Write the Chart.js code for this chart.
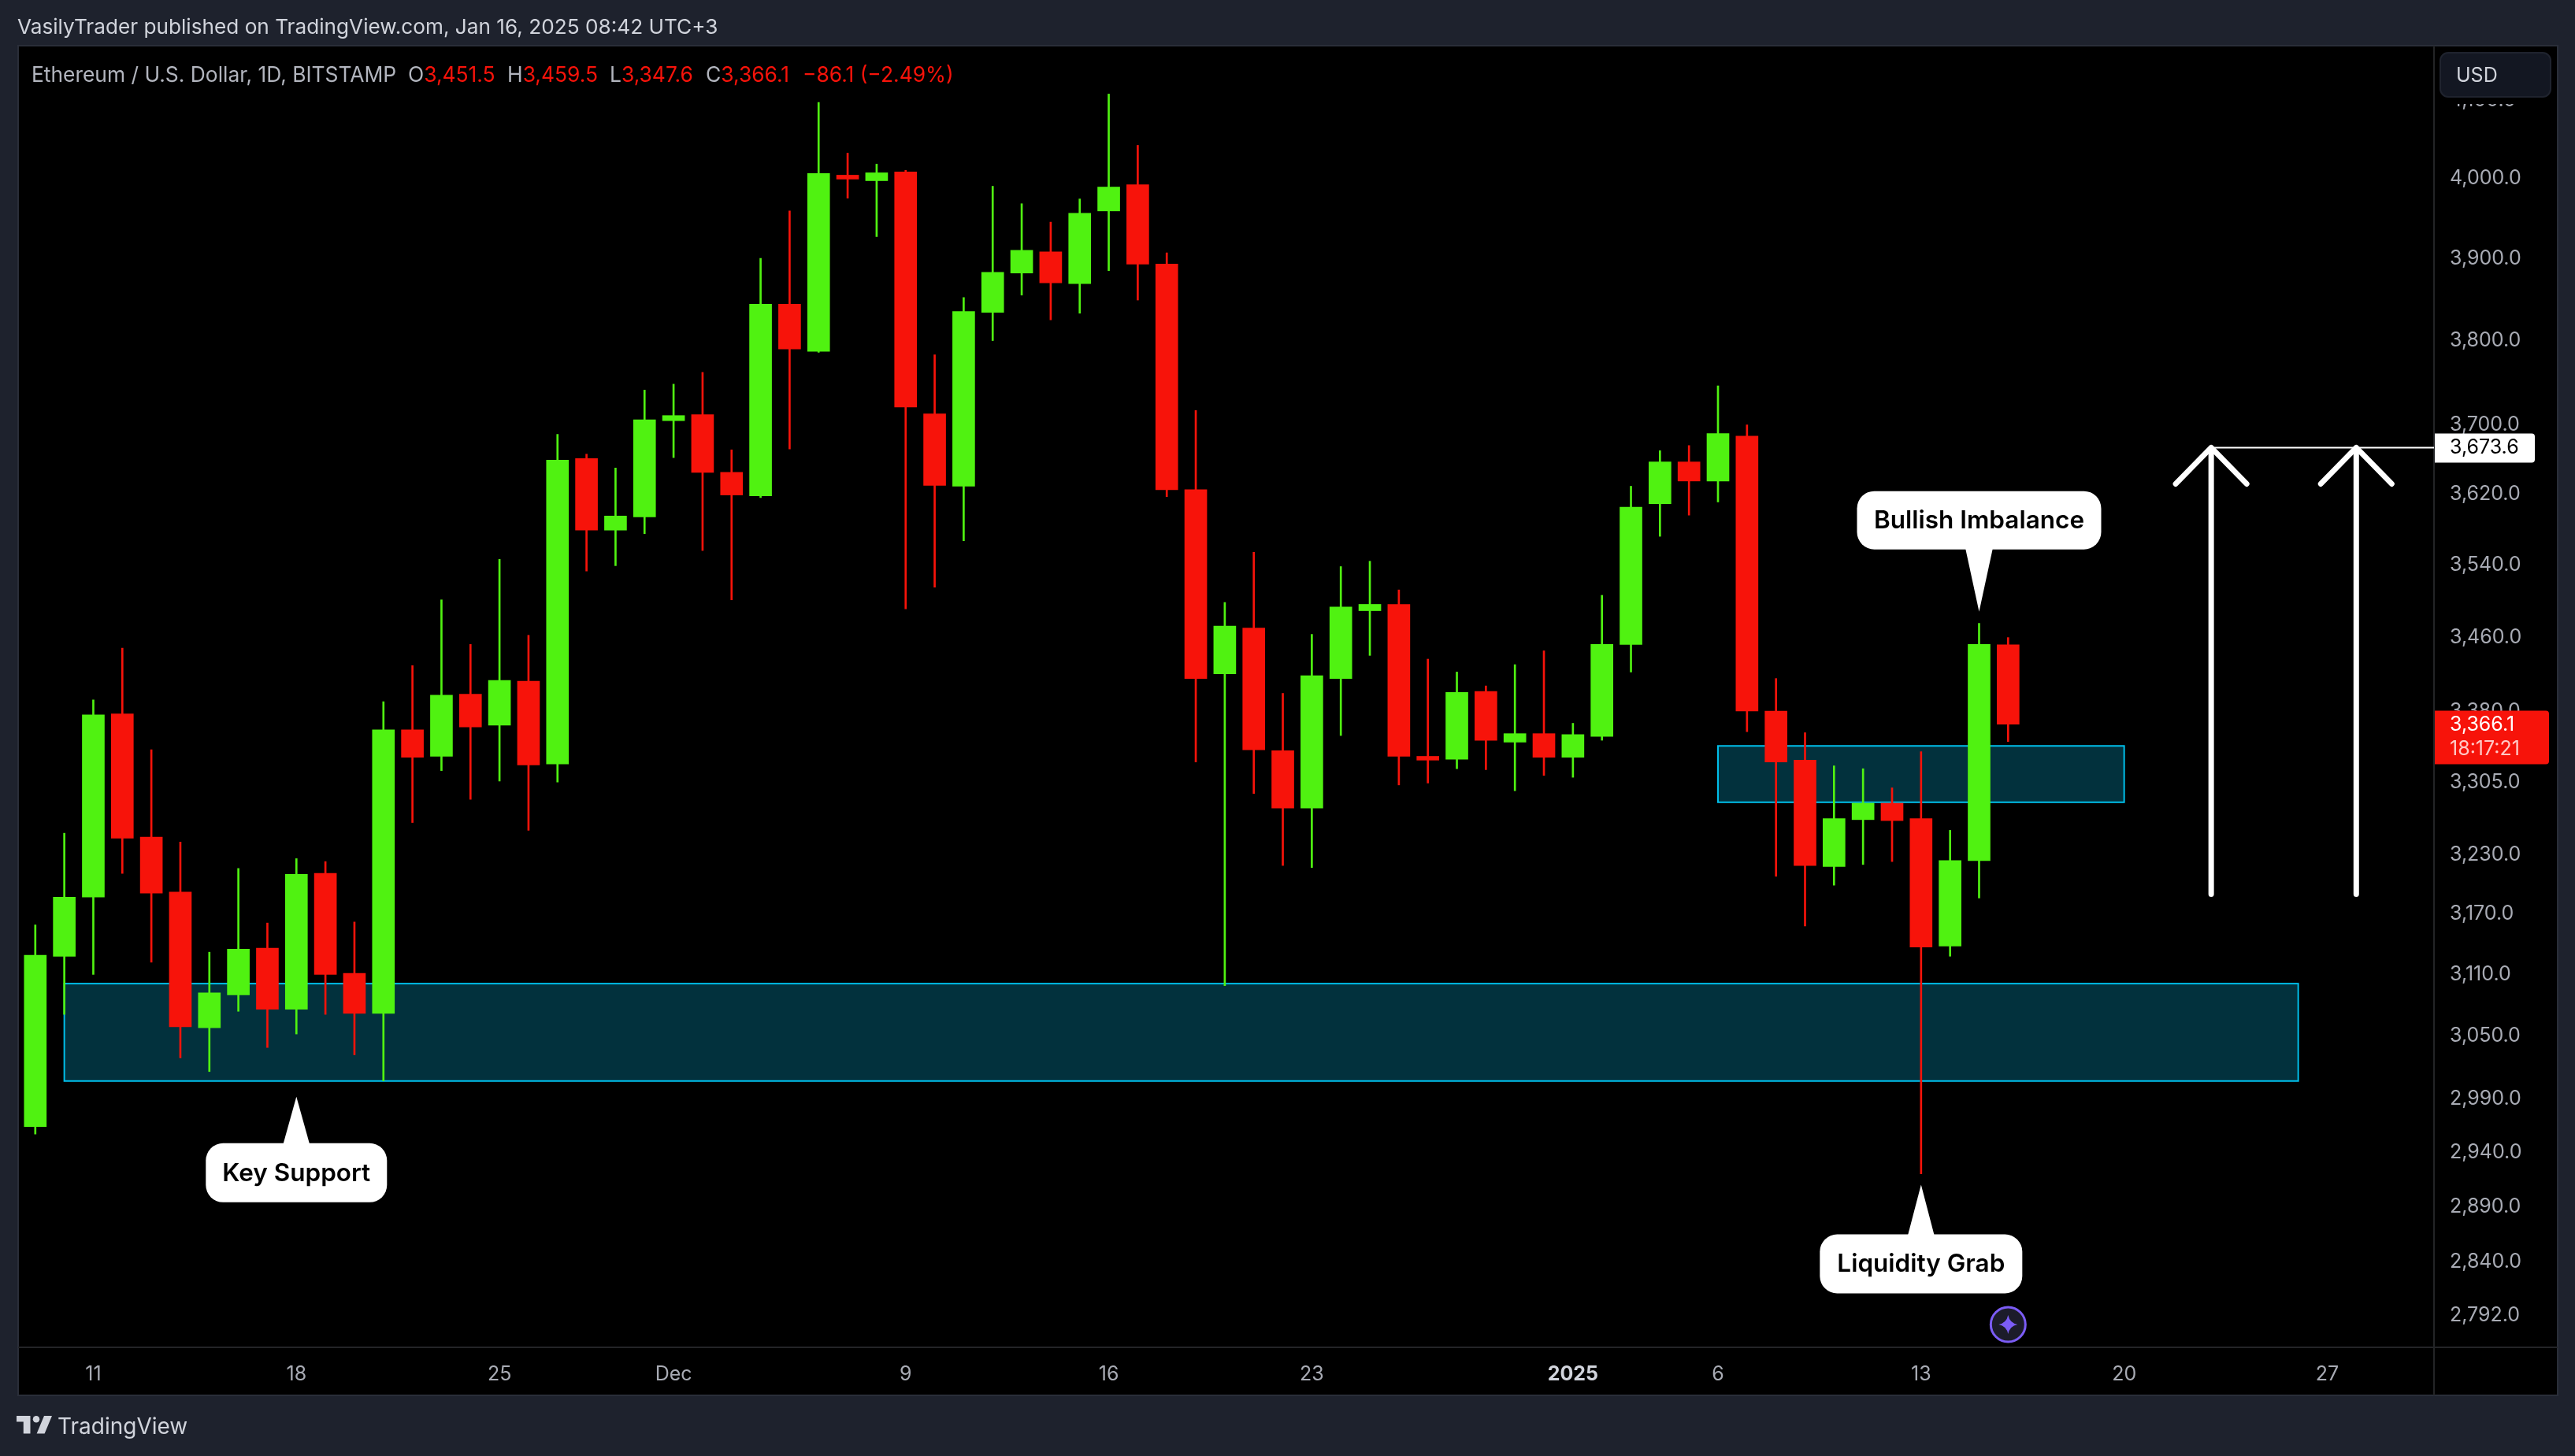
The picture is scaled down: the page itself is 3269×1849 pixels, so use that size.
<!DOCTYPE html>
<html>
<head>
<meta charset="utf-8">
<title>ETHUSD</title>
<script src="https://cdn.jsdelivr.net/npm/chart.js@4"></script>
<style>
    html, body { margin: 0; padding: 0; background: #1e222d; overflow: hidden; }
    body { width: 3269px; height: 1849px; position: relative; font-family: Inter, sans-serif; }
    canvas { position: absolute; left: 0; top: 0; }
    .txt { position: absolute; white-space: pre; line-height: 1; z-index: 2; }
    .head { left: 22px; top: 21px; font-size: 26.2px; color: #d1d4dc; }
    .leg { top: 81px; font-size: 26.4px; color: #b2b5be; }
    .leg b { font-weight: 400; color: #f7130a; }
    .foot { left: 73px; top: 1797px; font-size: 28px; color: #d1d4dc; }
    .logo { position: absolute; left: 21px; top: 1798px; z-index: 2; }
</style>
</head>
<body>
<canvas id="graph1" width="3269" height="1849"></canvas>
<div class="txt head">VasilyTrader published on TradingView.com, Jan 16, 2025 08:42 UTC+3</div>
<div class="txt leg" style="left:40px">Ethereum / U.S. Dollar, 1D, BITSTAMP</div>
<div class="txt leg" style="left:518px">O<b>3,451.5</b></div>
<div class="txt leg" style="left:644px">H<b>3,459.5</b></div>
<div class="txt leg" style="left:774px">L<b>3,347.6</b></div>
<div class="txt leg" style="left:896px">C<b>3,366.1</b></div>
<div class="txt leg" style="left:1019px"><b>−86.1 (−2.49%)</b></div>
<svg class="logo" width="45" height="23" viewBox="0 0 36 18.4">
    <path d="M14 0H0v6h7v12h7z M28.5 18h-8L28 0h8z" fill="#d1d4dc"/>
    <circle cx="20" cy="3.4" r="3.4" fill="#d1d4dc"/>
</svg>
<div class="txt foot">TradingView</div>

<script>
// 2024-11-09 .. 2025-01-16, one candle a day
const days = [
    "Nov 9","Nov 10","Nov 11","Nov 12","Nov 13","Nov 14","Nov 15","Nov 16","Nov 17","Nov 18","Nov 19","Nov 20",
    "Nov 21","Nov 22","Nov 23","Nov 24","Nov 25","Nov 26","Nov 27","Nov 28","Nov 29","Nov 30",
    "Dec 1","Dec 2","Dec 3","Dec 4","Dec 5","Dec 6","Dec 7","Dec 8","Dec 9","Dec 10","Dec 11","Dec 12","Dec 13",
    "Dec 14","Dec 15","Dec 16","Dec 17","Dec 18","Dec 19","Dec 20","Dec 21","Dec 22","Dec 23","Dec 24","Dec 25",
    "Dec 26","Dec 27","Dec 28","Dec 29","Dec 30","Dec 31",
    "Jan 1","Jan 2","Jan 3","Jan 4","Jan 5","Jan 6","Jan 7","Jan 8","Jan 9","Jan 10","Jan 11","Jan 12","Jan 13",
    "Jan 14","Jan 15","Jan 16"
];
const opens = [
    2964,3128,3187,3377,3248,3192,3058,3090,3136,3076,3211,3111,3072,3360,3332,3398,3365,3412,3324,3661,3579,3594,3705,
    3712,3645,3618,3844,3787,4004,3997,4008,3713,3629,3834,3882,3908,3869,3959,3992,3893,3625,3420,3470,3338,3278,3415,
    3489,3496,3332,3329,3401,3347,3356,3331,3353,3452,3609,3657,3635,3687,3380,3328,3218,3266,3283,3267,3138,3224,3451.5
];
const highs = [
    3159,3252,3392,3448,3339,3243,3132,3216,3161,3226,3223,3162,3390,3429,3501,3452,3546,3462,3689,3666,3650,3741,3748,
    3762,3671,3900,3959,4097,4032,4018,4010,3783,3852,3990,3968,3945,3974,4108,4042,3907,3717,3498,3554,3399,3463,3538,
    3544,3512,3436,3422,3407,3430,3445,3367,3506,3629,3670,3676,3746,3700,3415,3357,3322,3319,3299,3337,3255,3475,3459.5
];
const lows = [
    2957,3071,3110,3211,3122,3029,3016,3074,3039,3052,3071,3032,3007,3263,3317,3287,3306,3255,3305,3533,3539,3575,3662,
    3556,3501,3616,3672,3786,3975,3927,3491,3515,3567,3800,3855,3825,3833,3885,3849,3617,3326,3099,3293,3219,3217,3354,
    3440,3302,3304,3319,3318,3296,3312,3310,3349,3422,3572,3596,3611,3358,3208,3158,3199,3220,3223,2920,3128,3186,3347.6
];
const closes = [
    3129,3187,3376,3247,3191,3059,3092,3135,3076,3210,3110,3072,3360,3331,3397,3363,3413,3323,3659,3579,3595,3706,3711,
    3645,3619,3844,3790,4006,3999,4007,3721,3630,3835,3883,3910,3870,3956,3989,3893,3625,3415,3472,3339,3278,3418,3493,
    3496,3332,3328,3400,3349,3356,3331,3355,3452,3605,3657,3635,3690,3380,3326,3219,3267,3283,3265,3137,3224,3452,3366.1
];

const priceTicks = [4100,4000,3900,3800,3700,3620,3540,3460,3380,3305,3230,3170,3110,3050,2990,2940,2890,2840,2792];
const xTickDays = [2,9,16,22,30,37,44,53,58,65,72,79];
const xTickLabels = ["11","18","25","Dec","9","16","23","2025","6","13","20","27"];

// drawings: day index + price
const zoneDayFrom = [1,58];
const zoneDayTo = [78,72];
const zoneHigh = [3101,3343];
const zoneLow = [3007,3284];
const arrowDays = [75,80];
const arrowTop = 3673.6;
const arrowBottom = 3190;
const noteTexts = ["Key Support","Bullish Imbalance","Liquidity Grab"];
const noteDays = [9,67,65];
const notePrices = [2992,3488,2910];
const lastClose = 3366.1;

const GREEN = "#50f211";
const RED = "#f7130a";
const CYAN = "#00bfea";
const ZONE = "#02313d";
const AXIS_TEXT = "#a8abb4";
const FONT = "Inter, sans-serif";

function candleColor(i){
    return closes[i] >= opens[i] ? GREEN : RED;
}

function format_price(v){
    return Number(v).toLocaleString("en-US", {minimumFractionDigits: 1, maximumFractionDigits: 1});
}

function round_rect(ctx, x, y, w, h, r){
    ctx.beginPath();
    ctx.roundRect(x, y, w, h, r);
    ctx.fill();
}

function draw_note(ctx, text, tipX, tipY, up){
    // up: pointer goes up from the box
    const sizes = {"Key Support": [230, 34, 59, 134], "Bullish Imbalance": [310, 35, -153, -79], "Liquidity Grab": [257, 34, 63, 138]};
    const s = sizes[text];
    const w = s[0];
    const top = tipY + s[2];
    const bottom = tipY + s[3];
    ctx.fillStyle = "#ffffff";
    round_rect(ctx, tipX - w / 2, top, w, bottom - top, 22);
    ctx.beginPath();
    ctx.moveTo(tipX, tipY);
    if (up){
        ctx.lineTo(tipX - s[1] / 2, top + 2);
        ctx.lineTo(tipX + s[1] / 2, top + 2);
    } else {
        ctx.lineTo(tipX - s[1] / 2, bottom - 2);
        ctx.lineTo(tipX + s[1] / 2, bottom - 2);
    }
    ctx.closePath();
    ctx.fill();
    ctx.fillStyle = "#000000";
    ctx.font = "600 31.5px " + FONT;
    ctx.textAlign = "center";
    ctx.textBaseline = "middle";
    ctx.fillText(text, tipX, (top + bottom) / 2 + 1);
}

const tvDrawings = {
    id: "tvDrawings",
    beforeDraw(chart){
        const c = chart.ctx, a = chart.chartArea;
        c.save();
        c.fillStyle = "#000000";
        c.fillRect(23, 58, 3224, 1714);
        c.strokeStyle = "#2a2e39";
        c.lineWidth = 2;
        c.strokeRect(23, 58, 3224, 1714);
        c.strokeStyle = "#232427";
        c.beginPath();
        c.moveTo(a.right, 58); c.lineTo(a.right, 1772);
        c.moveTo(23, a.bottom); c.lineTo(3247, a.bottom);
        c.stroke();
        c.restore();
    },
    beforeDatasetsDraw(chart){
        const c = chart.ctx, x = chart.scales.x, y = chart.scales.y;
        c.save();
        for (let i = 0; i < zoneHigh.length; i++){
            const l = x.getPixelForValue(zoneDayFrom[i]);
            const r = x.getPixelForValue(zoneDayTo[i]);
            const t = y.getPixelForValue(zoneHigh[i]);
            const b = y.getPixelForValue(zoneLow[i]);
            c.fillStyle = ZONE;
            c.fillRect(l, t, r - l, b - t);
            c.strokeStyle = CYAN;
            c.lineWidth = 2;
            c.strokeRect(l, t, r - l, b - t);
        }
        c.restore();
    },
    afterDatasetsDraw(chart){
        const c = chart.ctx, x = chart.scales.x, y = chart.scales.y, a = chart.chartArea;
        c.save();

        // arrows and the line going to the price label
        const topY = y.getPixelForValue(arrowTop);
        const botY = y.getPixelForValue(arrowBottom);
        c.strokeStyle = "#ffffff";
        c.lineWidth = 2;
        c.beginPath();
        c.moveTo(x.getPixelForValue(arrowDays[0]), topY);
        c.lineTo(a.right, topY);
        c.stroke();
        c.lineCap = "round";
        c.lineJoin = "round";
        c.lineWidth = 7;
        for (let d of arrowDays){
            const ax = x.getPixelForValue(d);
            c.beginPath();
            c.moveTo(ax, botY); c.lineTo(ax, topY);
            c.moveTo(ax - 45, topY + 46); c.lineTo(ax, topY); c.lineTo(ax + 45, topY + 46);
            c.stroke();
        }

        // callouts
        for (let i = 0; i < noteTexts.length; i++){
            draw_note(c, noteTexts[i], x.getPixelForValue(noteDays[i]), y.getPixelForValue(notePrices[i]), i !== 1);
        }

        // star mark below the last candle
        const sx = x.getPixelForValue(days.length - 1), sy = a.bottom - 29;
        c.fillStyle = "#1c1c2a";
        c.strokeStyle = "#7b5cf5";
        c.lineWidth = 3;
        c.beginPath();
        c.arc(sx, sy, 22, 0, Math.PI * 2);
        c.fill();
        c.stroke();
        c.fillStyle = "#7b5cf5";
        c.beginPath();
        c.moveTo(sx, sy - 12);
        c.quadraticCurveTo(sx + 2, sy - 2, sx + 12, sy);
        c.quadraticCurveTo(sx + 2, sy + 2, sx, sy + 12);
        c.quadraticCurveTo(sx - 2, sy + 2, sx - 12, sy);
        c.quadraticCurveTo(sx - 2, sy - 2, sx, sy - 12);
        c.fill();

        // price labels on the axis
        c.textAlign = "left";
        c.textBaseline = "middle";
        c.font = "25px " + FONT;
        c.fillStyle = "#ffffff";
        round_rect(c, a.right + 1, topY - 18, 127, 37, [0, 4, 4, 0]);
        c.fillStyle = "#000000";
        c.fillText(format_price(arrowTop), a.right + 20, topY);

        const lastY = y.getPixelForValue(lastClose);
        c.fillStyle = RED;
        round_rect(c, a.right + 1, lastY - 17, 145, 68, [0, 4, 4, 0]);
        c.fillStyle = "#ffffff";
        c.fillText(format_price(lastClose), a.right + 20, lastY + 1);
        c.fillStyle = "#ffc9c6";
        c.fillText("18:17:21", a.right + 20, lastY + 32);

        // currency button, it hides most of the top tick
        c.fillStyle = "#000000";
        c.fillRect(a.right + 1, 59, 155, 73);
        c.fillStyle = "#131722";
        c.strokeStyle = "#1f232e";
        c.lineWidth = 2;
        c.beginPath();
        c.roundRect(a.right + 8, 67, 140, 56, 10);
        c.fill();
        c.stroke();
        c.fillStyle = "#d1d4dc";
        c.fillText("USD", a.right + 28, 96);
        c.restore();
    }
};

window.addEventListener("load", function (){
    draw_chart();
});

function draw_chart(){
    const wicks = days.map((d, i) => ({x: i, y: [lows[i], highs[i]]}));
    const bodies = days.map((d, i) => ({x: i, y: [opens[i], closes[i]]}));
    const colors = days.map((d, i) => candleColor(i));

    const ctx = document.getElementById("graph1").getContext("2d");
    new Chart(ctx, {
        type: "bar",
        data: {
            datasets: [
                {
                    label: "wick",
                    data: wicks,
                    backgroundColor: colors,
                    barThickness: 2,
                    grouped: false,
                    order: 2
                },
                {
                    label: "body",
                    data: bodies,
                    backgroundColor: colors,
                    barThickness: 28,
                    grouped: false,
                    order: 1
                }
            ]
        },
        plugins: [tvDrawings],
        options: {
            responsive: false,
            animation: false,
            layout: {padding: {left: 23, right: 22, top: 58, bottom: 77}},
            plugins: {legend: {display: false}, tooltip: {enabled: false}},
            scales: {
                x: {
                    type: "linear",
                    offset: false,
                    min: -0.592,
                    max: 82.68,
                    grid: {display: false, drawTicks: false},
                    border: {display: false},
                    afterFit: s => { s.height = 61; },
                    afterBuildTicks: s => { s.ticks = xTickDays.map(v => ({value: v})); },
                    ticks: {
                        autoSkip: false,
                        maxRotation: 0,
                        padding: 19,
                        color: c => c.tick && c.tick.value === 53 ? "#d1d4dc" : AXIS_TEXT,
                        font: c => ({family: FONT, size: 25, weight: c.tick && c.tick.value === 53 ? "700" : "400"}),
                        callback: v => xTickLabels[xTickDays.indexOf(v)]
                    }
                },
                y: {
                    type: "logarithmic",
                    position: "right",
                    min: 2764.2,
                    max: 4171.3,
                    grid: {display: false, drawTicks: false},
                    border: {display: false},
                    afterFit: s => { s.width = 157; },
                    afterBuildTicks: s => { s.ticks = priceTicks.map(v => ({value: v})); },
                    ticks: {
                        autoSkip: false,
                        padding: 20,
                        color: AXIS_TEXT,
                        font: {family: FONT, size: 25},
                        callback: v => format_price(v)
                    }
                }
            }
        }
    });
}
</script>
</body>
</html>
